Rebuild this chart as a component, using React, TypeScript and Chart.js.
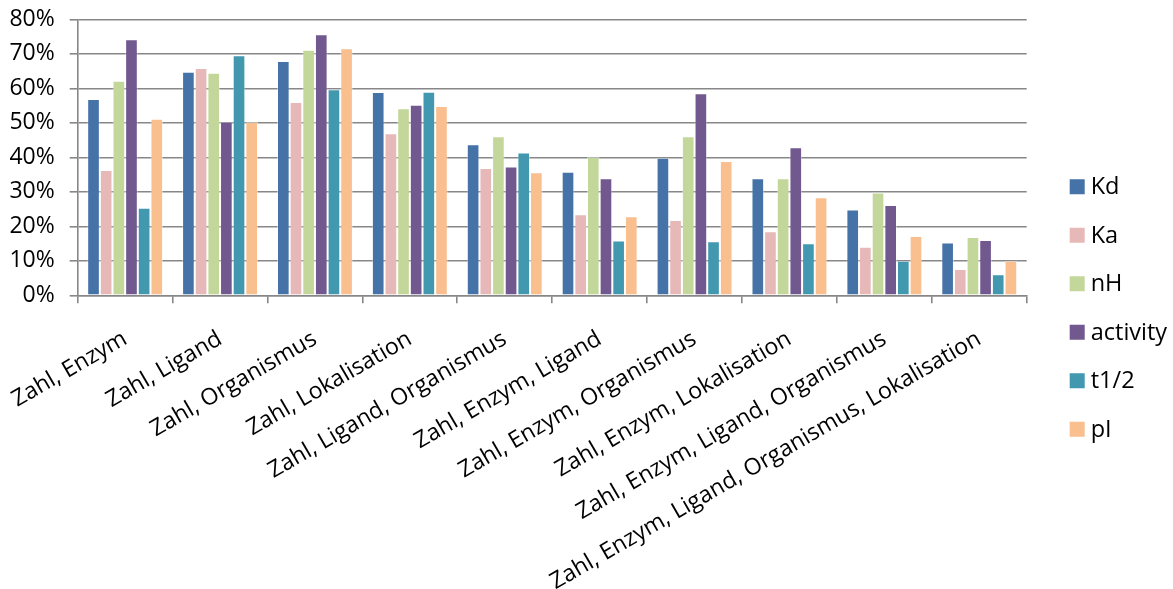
import React, { useEffect, useRef } from "react";
import { Chart, registerables } from "chart.js";

Chart.register(...registerables);

// Query combinations on the category axis
const categories = [
  "Zahl, Enzym",
  "Zahl, Ligand",
  "Zahl, Organismus",
  "Zahl, Lokalisation",
  "Zahl, Ligand, Organismus",
  "Zahl, Enzym, Ligand",
  "Zahl, Enzym, Organismus",
  "Zahl, Enzym, Lokalisation",
  "Zahl, Enzym, Ligand, Organismus",
  "Zahl, Enzym, Ligand, Organismus, Lokalisation",
];

// Share (in %) per parameter
const kd = [56.9, 64.8, 67.9, 58.9, 43.8, 35.8, 39.9, 33.9, 24.9, 15.3];
const ka = [36.3, 65.9, 56.0, 47.0, 36.9, 23.5, 21.8, 18.6, 14.1, 7.6];
const nH = [62.2, 64.5, 71.2, 54.2, 46.1, 40.1, 46.1, 33.9, 29.8, 16.9];
const activity = [74.2, 50.3, 75.7, 55.2, 37.3, 33.9, 58.6, 42.9, 26.2, 16.0];
const t12 = [25.4, 69.6, 59.7, 59.0, 41.4, 15.9, 15.7, 15.1, 10.0, 6.1];
const pI = [51.2, 50.2, 71.6, 54.9, 35.7, 22.9, 38.9, 28.4, 17.2, 10.0];

const seriesLabels = ["Kd", "Ka", "nH", "activity", "t1/2", "pI"];
const seriesColors = ["#4572A7", "#E6B9B8", "#C4D79B", "#71588F", "#4198AF", "#F9BF8F"];
const seriesValues = [kd, ka, nH, activity, t12, pI];

const yMin = 0;
const yMax = 80;
const yStep = 10;

const FONT = '"Open Sans", "DejaVu Sans", sans-serif';
const AXIS_FONT_SIZE = 23;
const LEGEND_FONT_SIZE = 23.5;
const AXIS_GRAY = "#878787";

// Vertical legend drawn to the right of the plot area
const sideLegend = {
  id: "sideLegend",
  afterDraw(chart: any) {
    const { ctx, chartArea } = chart;
    const x = chartArea.right + 43;
    const step = 48.5;
    const n = chart.data.datasets.length;
    const firstY = 308 - ((n - 1) * step) / 2;
    ctx.save();
    ctx.font = `${LEGEND_FONT_SIZE}px ${FONT}`;
    ctx.textBaseline = "middle";
    ctx.textAlign = "left";
    chart.data.datasets.forEach((ds: any, i: number) => {
      const y = firstY + i * step;
      ctx.fillStyle = ds.backgroundColor;
      ctx.fillRect(x, y - 7.5, 15, 15);
      ctx.fillStyle = "#000";
      ctx.fillText(ds.label, x + 21, y + 1);
    });
    ctx.restore();
  },
};

export default function App() {
  const canvasRef = useRef<HTMLCanvasElement | null>(null);

  useEffect(() => {
    if (!canvasRef.current) return;
    const chart = new Chart(canvasRef.current, {
      type: "bar",
      data: {
        labels: categories,
        datasets: seriesLabels.map((label, i) => ({
          label,
          data: seriesValues[i],
          backgroundColor: seriesColors[i],
          borderColor: "rgba(255,255,255,0.4)",
          borderWidth: 1,
          borderSkipped: "bottom",
          categoryPercentage: 0.8,
          barPercentage: 1.0,
        })),
      },
      options: {
        responsive: false,
        animation: false,
        layout: { padding: { top: 19.3, right: 146.3, bottom: 0, left: 0 } },
        plugins: {
          legend: { display: false },
          tooltip: { enabled: false },
        },
        scales: {
          x: {
            grid: {
              display: true,
              drawOnChartArea: false,
              drawTicks: true,
              tickLength: 8,
              color: AXIS_GRAY,
              lineWidth: 1.6,
              offset: true,
            },
            border: { display: true, color: AXIS_GRAY, width: 1.6 },
            ticks: {
              autoSkip: false,
              minRotation: 30,
              maxRotation: 30,
              padding: 22,
              color: "#000",
              font: { family: FONT, size: AXIS_FONT_SIZE },
            },
            afterFit: (s: any) => {
              s.height = 589 - 295.3;
              s.paddingLeft = 0;
              s.paddingRight = 0;
            },
          },
          y: {
            min: yMin,
            max: yMax,
            ticks: {
              stepSize: yStep,
              padding: 15,
              color: "#000",
              font: { family: FONT, size: AXIS_FONT_SIZE },
              callback: (v: any) => `${v}%`,
            },
            grid: {
              color: AXIS_GRAY,
              lineWidth: 1.6,
              tickLength: 8,
              drawTicks: true,
            },
            border: { display: true, color: AXIS_GRAY, width: 1.6 },
            afterFit: (s: any) => {
              s.width = 77.7;
              s.paddingTop = 0;
              s.paddingBottom = 0;
            },
          },
        },
      },
      plugins: [sideLegend],
    });
    return () => chart.destroy();
  }, []);

  return (
    <div style={{ position: "absolute", left: 0, top: 0, width: 1173, height: 589, background: "#fff" }}>
      <canvas ref={canvasRef} width={1173} height={589} style={{ width: 1173, height: 589, display: "block" }} />
    </div>
  );
}
